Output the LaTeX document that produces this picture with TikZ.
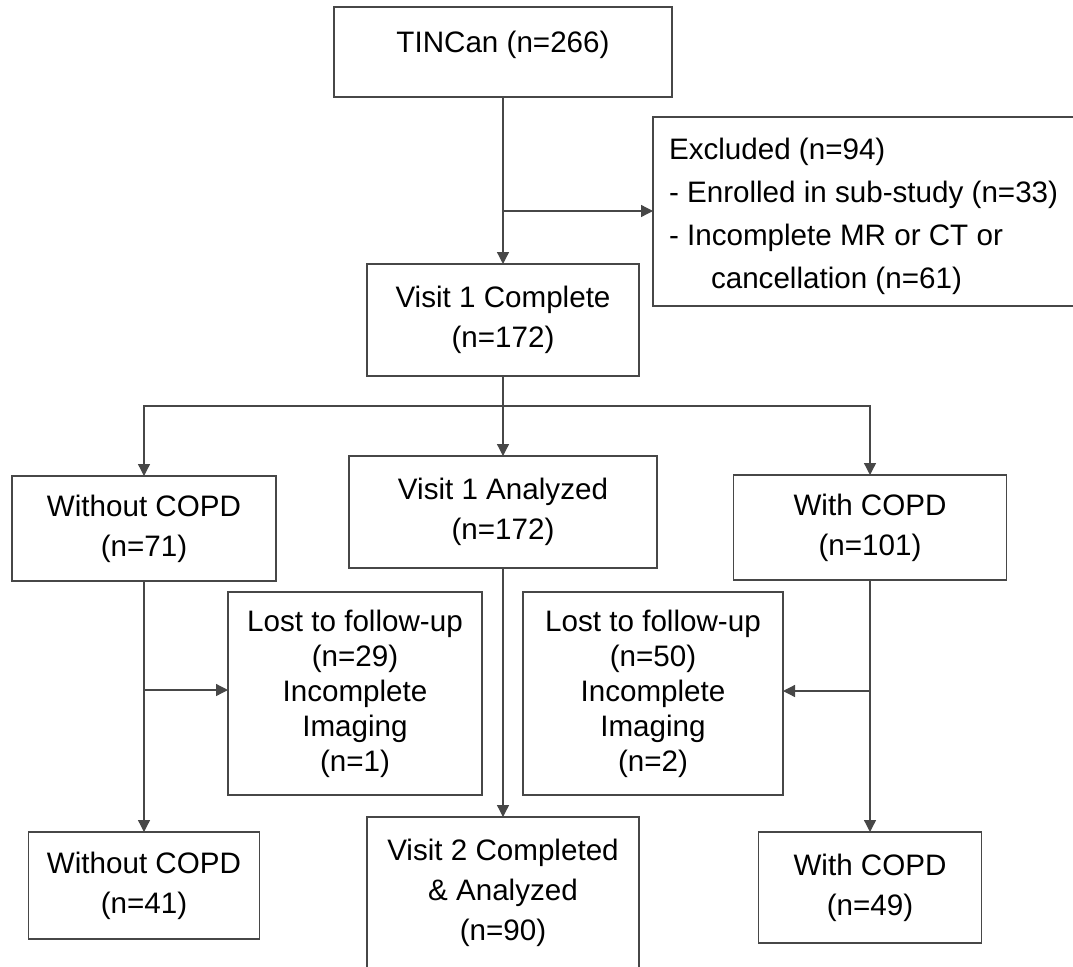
\documentclass[tikz,border=0pt]{standalone}
\usepackage{fontspec}
\setmainfont{Liberation Sans}
\usetikzlibrary{arrows.meta}
\begin{document}
\begin{tikzpicture}[x=1pt,y=-1pt,
  box/.style={draw=black!72, line width=1.3pt, inner sep=0pt, outer sep=0pt, align=center,
    font=\fontsize{29.6}{40}\selectfont, text=black},
  lostbox/.style={box, font=\fontsize{29.6}{35}\selectfont},
  txt/.style={inner sep=0pt, outer sep=0pt, font=\fontsize{29.6}{42.7}\selectfont, text=black},
  conn/.style={draw=black!72, line width=1.3pt},
  arr/.style={conn, -{Triangle[length=12pt,width=12pt]}}]
\useasboundingbox (0,0) rectangle (1073,966);

% boxes
\node[box, minimum width=338, minimum height=90] (tin) at (503,52) {};
\node[txt] (tintxt) at (503,45) {TINCan (n=266)};
\node[box, minimum width=437, minimum height=189] (excl) at (871.5,211.5) {};
\node[txt, align=left, anchor=north west] (excltxt) at (669,138.5)
  {Excluded (n=94)\\- Enrolled in sub-study (n=33)\\- Incomplete MR or CT or\\\hspace*{42pt}cancellation (n=61)};
\node[box, minimum width=272, minimum height=112] (v1c) at (503,320) {Visit 1 Complete\\(n=172)};
\node[box, minimum width=264, minimum height=105] (wo1) at (144,528.5) {Without COPD\\(n=71)};
\node[box, minimum width=308, minimum height=112] (v1a) at (503,512) {Visit 1 Analyzed\\(n=172)};
\node[box, minimum width=273, minimum height=105] (w1) at (870,527.5) {With COPD\\(n=101)};
\node[lostbox, minimum width=254, minimum height=203] (l29) at (355,693.5)
  {Lost to follow-up\\(n=29)\\Incomplete\\Imaging\\(n=1)};
\node[lostbox, minimum width=260, minimum height=203] (l50) at (653,693.5)
  {Lost to follow-up\\(n=50)\\Incomplete\\Imaging\\(n=2)};
\node[box, minimum width=231, minimum height=107] (wo2) at (144,885.5) {Without COPD\\(n=41)};
\node[box, minimum width=272, minimum height=151] (v2) at (503,892.5) {Visit 2 Completed\\\& Analyzed\\(n=90)};
\node[box, minimum width=223, minimum height=111] (w2) at (870,887.5) {With COPD\\(n=49)};

% connectors
\coordinate (e1) at (503,211);
\coordinate (br) at (503,406);
\coordinate (b29) at (144,690);
\coordinate (b50) at (870,691);
\draw[arr] (tin) -- (v1c);
\draw[arr] (e1) -- (e1 -| excl.west);
\draw[arr] (v1c) -- (v1a);
\draw[arr] (br) -| (wo1.north);
\draw[arr] (br) -| (w1.north);
\draw[arr] (wo1) -- (wo2);
\draw[arr] (b29) -- (b29 -| l29.west);
\draw[arr] (v1a) -- (v2);
\draw[arr] (w1) -- (w2);
\draw[arr] (b50) -- (b50 -| l50.east);
\end{tikzpicture}
\end{document}
